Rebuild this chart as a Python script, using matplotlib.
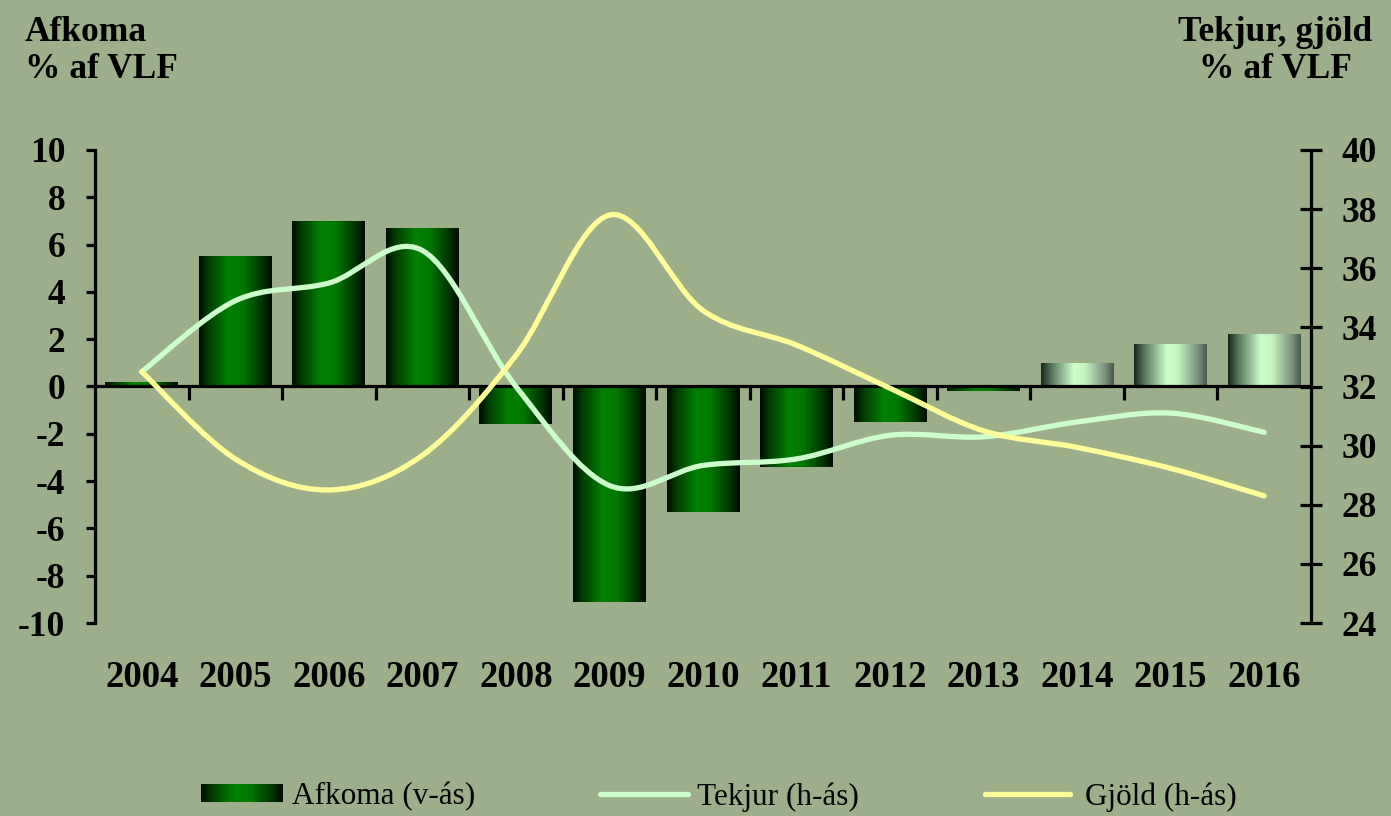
import matplotlib.pyplot as plt
import numpy as np
from matplotlib.colors import LinearSegmentedColormap
from matplotlib.path import Path
from matplotlib.patches import PathPatch
from matplotlib.lines import Line2D
import matplotlib.transforms as mtransforms

years = ['2004', '2005', '2006', '2007', '2008', '2009', '2010',
         '2011', '2012', '2013', '2014', '2015', '2016']
afkoma = [0.2, 5.5, 7.0, 6.7, -1.6, -9.1, -5.3, -3.4, -1.5, -0.2, 1.0, 1.8, 2.2]
tekjur = [32.5, 34.9, 35.5, 36.6, 32.0, 28.65, 29.33, 29.55, 30.35, 30.3, 30.8, 31.1, 30.45]
gjold = [32.5, 29.55, 28.5, 29.67, 33.05, 37.8, 34.57, 33.4, 31.94, 30.5, 29.94, 29.23, 28.3]
n_forecast = 3  # last three years drawn in pale colour

bg = '#9dae8b'
serif = 'Liberation Serif'
plt.rcParams['font.family'] = [serif, 'DejaVu Serif']
plt.rcParams['axes.unicode_minus'] = False

fig = plt.figure(figsize=(13.91, 8.16), dpi=100, facecolor=bg)
ax = fig.add_axes([95 / 1391, 1 - 623 / 816, (1311 - 95) / 1391, (623 - 150) / 816])
ax.set_facecolor(bg)
ax2 = ax.twinx()

x = np.arange(len(years))
dark_cmap = LinearSegmentedColormap.from_list(
    'dk', [(0, '#000a00'), (0.12, '#003a00'), (0.4, '#008000'),
           (0.6, '#007800'), (0.88, '#003000'), (1, '#000800')])
pale_cmap = LinearSegmentedColormap.from_list(
    'pl', [(0, '#18261a'), (0.15, '#5a7a5e'), (0.45, '#ccffcc'),
           (0.6, '#c4f4c4'), (0.88, '#7a927c'), (1, '#46564a')])
grad = np.linspace(0, 1, 256).reshape(1, -1)

bars = ax.bar(x, afkoma, width=0.78, color='none', edgecolor='none', zorder=2)
for i, b in enumerate(bars):
    cmap = pale_cmap if i >= len(years) - n_forecast else dark_cmap
    x0, y0 = b.get_x(), b.get_y()
    w, h = b.get_width(), b.get_height()
    im = ax.imshow(grad, cmap=cmap, aspect='auto', zorder=2,
                   extent=(x0, x0 + w, min(y0, y0 + h), max(y0, y0 + h)))
    im.set_clip_path(b)

ax.set_xlim(-0.5, len(years) - 0.5)
ax.set_ylim(-10, 10)
ax2.set_ylim(24, 40)

# zero line with category boundary ticks
ax.axhline(0, color='black', lw=2.3, zorder=3)
ax.vlines(np.arange(0.5, len(years) - 0.5), -0.55, 0, color='black', lw=2.3, zorder=3)

for sp in ['top', 'bottom', 'right']:
    ax.spines[sp].set_visible(False)
for sp in ['top', 'bottom', 'left']:
    ax2.spines[sp].set_visible(False)
ax.spines['left'].set_linewidth(2.3)
ax2.spines['right'].set_linewidth(2.3)

ax.set_xticks([])
ax.set_yticks(np.arange(-10, 11, 2))
ax.tick_params(axis='y', direction='out', length=6.5, width=2.3, pad=15,
               labelsize=25.5)
ax2.set_yticks(np.arange(24, 41, 2))
ax2.tick_params(axis='y', direction='inout', length=16, width=2.3, pad=14,
                labelsize=25.5)
for lab in ax.get_yticklabels() + ax2.get_yticklabels():
    lab.set_fontweight('bold')

trans = mtransforms.blended_transform_factory(ax.transData, ax.transAxes)
for xi, yr in zip(x, years):
    ax.text(xi, -0.115, yr, transform=trans, ha='center', va='center',
            fontsize=26.5, fontweight='bold')


def smooth_path(xs, ys):
    pts = np.column_stack([xs, ys]).astype(float)
    ext = np.vstack([pts[0], pts, pts[-1]])
    verts = [pts[0]]
    codes = [Path.MOVETO]
    for i in range(1, len(ext) - 2):
        p0, p1, p2, p3 = ext[i - 1], ext[i], ext[i + 1], ext[i + 2]
        c1 = p1 + (p2 - p0) / 6
        c2 = p2 - (p3 - p1) / 6
        verts += [c1, c2, p2]
        codes += [Path.CURVE4] * 3
    return Path(verts, codes)


ax2.add_patch(PathPatch(smooth_path(x, tekjur), fill=False, edgecolor='#ccffcc',
                        lw=3.8, capstyle='round', joinstyle='round', zorder=4))
ax2.add_patch(PathPatch(smooth_path(x, gjold), fill=False, edgecolor='#ffff99',
                        lw=3.8, capstyle='round', joinstyle='round', zorder=4))

# axis titles
fig.text(25 / 1391, 1 - 16 / 816, 'Afkoma\n% af VLF', ha='left', va='top',
         fontsize=25.5, fontweight='bold', linespacing=1.15)
fig.text(1275 / 1391, 1 - 16 / 816, 'Tekjur, gjöld\n% af VLF', ha='center', va='top',
         fontsize=25.5, fontweight='bold', linespacing=1.15, multialignment='center')

# legend
ly = 1 - 797 / 816
lax = fig.add_axes([201 / 1391, 1 - 802 / 816, 82 / 1391, 18 / 816])
lax.imshow(grad, cmap=dark_cmap, aspect='auto')
lax.axis('off')
fig.text(292 / 1391, ly, 'Afkoma (v-ás)', ha='left', va='center', fontsize=22.5)
fig.add_artist(Line2D([600 / 1391, 688 / 1391], [ly + 0.004, ly + 0.004], color='#ccffcc',
                      lw=3.8, solid_capstyle='round'))
fig.text(697 / 1391, ly, 'Tekjur (h-ás)', ha='left', va='center', fontsize=22.5)
fig.add_artist(Line2D([985 / 1391, 1070 / 1391], [ly + 0.004, ly + 0.004], color='#ffff99',
                      lw=3.8, solid_capstyle='round'))
fig.text(1085 / 1391, ly, 'Gjöld (h-ás)', ha='left', va='center', fontsize=22.5)

fig.savefig('out.png', dpi=100, facecolor=bg)
